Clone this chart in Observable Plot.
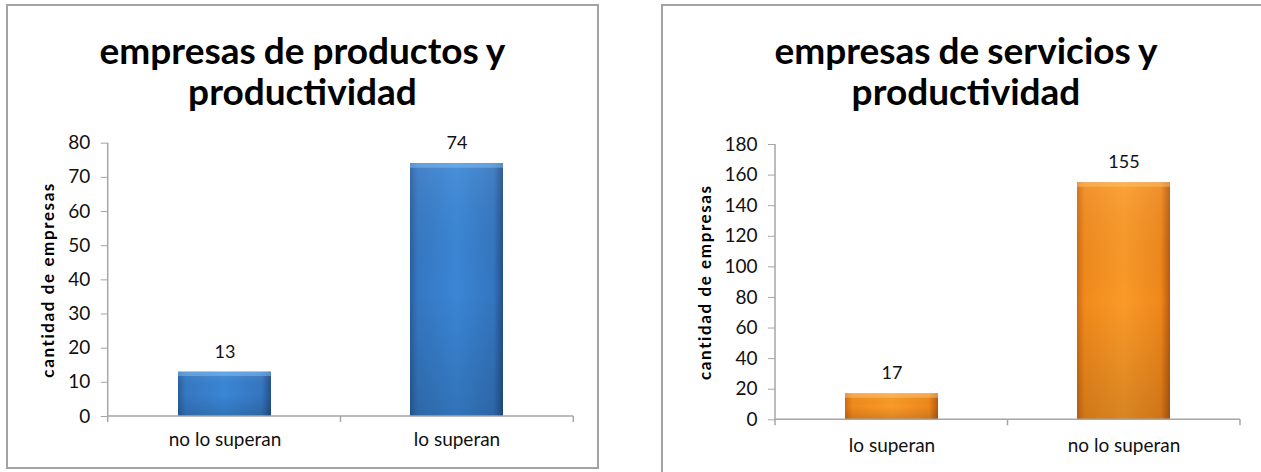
<!DOCTYPE html>
<html>
<head>
<meta charset="utf-8">
<script src="https://cdn.jsdelivr.net/npm/d3@7"></script>
<script src="https://cdn.jsdelivr.net/npm/@observablehq/plot@0.6"></script>
<style>
  html, body { margin: 0; padding: 0; background: #fff; width: 1261px; height: 472px; overflow: hidden; }
  .box { position: absolute; border: 2px solid #a3a3a3; box-sizing: border-box; background: #fff; }
  .title { position: absolute; left: 0; width: 100%; text-align: center; font-family: Lato, "Open Sans", sans-serif;
           font-weight: bold; font-size: 37px; line-height: 41px; color: #000; word-spacing: -1px; }
  .chart { position: absolute; }
  .chart svg { overflow: visible; font-family: Lato, "Open Sans", sans-serif; }
  .chart svg [aria-label="y-axis label"] text { font-weight: bold; fill: #000; font-size: 17px; letter-spacing: 1.6px; }
</style>
</head>
<body>
<div class="box" id="boxA" style="left:6px; top:4px; width:593px; height:465px;"></div>
<div class="box" id="boxB" style="left:661px; top:4px; width:620px; height:490px;"></div>
<div class="title" id="titleA" style="left:6px; width:593px; top:29px;"></div>
<div class="title" id="titleB" style="left:661px; width:610px; top:29px;"></div>
<div class="chart" id="chartA" style="left:0px; top:120px;"></div>
<div class="chart" id="chartB" style="left:640px; top:120px;"></div>
<script>
// ---- data ----
const titleProductos = ["empresas de productos y", "productividad"];
const catsProductos = ["no lo superan", "lo superan"];
const valsProductos = [13, 74];
const ticksProductos = [0, 10, 20, 30, 40, 50, 60, 70, 80];

const titleServicios = ["empresas de servicios y", "productividad"];
const catsServicios = ["lo superan", "no lo superan"];
const valsServicios = [17, 155];
const ticksServicios = [0, 20, 40, 60, 80, 100, 120, 140, 160, 180];

const yLabel = "cantidad de empresas";

// ---- helpers ----
function axisFrame(nCats, yMax, color) {
  return (index, scales, values, dims) => {
    const {width, marginLeft, marginRight} = dims;
    const y = scales.y;
    const left = marginLeft, right = width - marginRight;
    const y0 = y(0), yTop = y(yMax);
    const g = d3.create("svg:g").attr("stroke", color).attr("stroke-width", 1.5).attr("fill", "none");
    g.append("line").attr("x1", left).attr("x2", left).attr("y1", yTop).attr("y2", y0 + 6);
    g.append("line").attr("x1", left).attr("x2", right).attr("y1", y0).attr("y2", y0);
    for (let i = 1; i <= nCats; i++) {
      const x = left + i * (right - left) / nCats;
      g.append("line").attr("x1", x).attr("x2", x).attr("y1", y0).attr("y2", y0 + 6);
    }
    return g.node();
  };
}

function addDefs(svg, id, c) {
  const defs = d3.select(svg).insert("defs", ":first-child");
  const h = defs.append("linearGradient").attr("id", id + "H").attr("x1", 0).attr("x2", 1).attr("y1", 0).attr("y2", 0);
  [[0, c.edgeL], [0.08, c.side], [0.5, c.mid], [0.9, c.side2], [1, c.edgeR]].forEach(([o, col]) =>
    h.append("stop").attr("offset", o).attr("stop-color", col));
  const v = defs.append("linearGradient").attr("id", id + "V").attr("x1", 0).attr("x2", 0).attr("y1", 0).attr("y2", 1);
  v.append("stop").attr("offset", 0).attr("stop-color", "#fff").attr("stop-opacity", 0.08);
  v.append("stop").attr("offset", 0.5).attr("stop-color", "#000").attr("stop-opacity", 0.0);
  v.append("stop").attr("offset", 1).attr("stop-color", "#000").attr("stop-opacity", 0.14);
}

function makeChart({cats, vals, ticks, id, colors, width, height, marginLeft, marginRight, marginTop, marginBottom, labelOffset, labelDy, xPad}) {
  const data = cats.map((c, i) => ({cat: c, value: vals[i]}));
  const yMax = ticks[ticks.length - 1];
  const svg = Plot.plot({
    width, height, marginLeft, marginRight, marginTop, marginBottom,
    style: {fontFamily: "Lato, 'Open Sans', sans-serif", color: "#111", background: "transparent"},
    x: {domain: cats, paddingInner: 0.6, paddingOuter: 0.3},
    y: {domain: [0, yMax]},
    marks: [
      Plot.barY(data, {x: "cat", y: "value", fill: `url(#${id}H)`}),
      Plot.barY(data, {x: "cat", y: "value", fill: `url(#${id}V)`}),
      Plot.tickY(data, {x: "cat", y: "value", stroke: colors.bevel, strokeWidth: 4, dy: 2, strokeOpacity: 0.45}),
      axisFrame(cats.length, yMax, "#a6a6a6"),
      Plot.axisY({ticks, tickSize: 7, tickPadding: 11, stroke: "#a6a6a6", fontSize: 19,
        label: yLabel, labelAnchor: "center", labelArrow: "none", labelOffset}),
      Plot.axisX({tickSize: 0, tickPadding: xPad, fontSize: 19, label: null}),
      Plot.text(data, {x: "cat", y: "value", text: d => String(d.value), dy: labelDy, fontSize: 18, fill: "#111"})
    ]
  });
  addDefs(svg, id, colors);
  return svg;
}

function setTitle(el, lines) {
  el.innerHTML = "";
  lines.forEach((t, i) => { if (i) el.appendChild(document.createElement("br")); el.appendChild(document.createTextNode(t)); });
}

setTitle(document.getElementById("titleA"), titleProductos);
setTitle(document.getElementById("titleB"), titleServicios);

const blue = {edgeL: "#2a5f9f", side: "#3578c3", mid: "#3a86d6", side2: "#3476c0", edgeR: "#23508a", bevel: "#8cc6f7"};
const orange = {edgeL: "#cf6a10", side: "#f18a1c", mid: "#fa9a28", side2: "#ef881c", edgeR: "#b85a0c", bevel: "#ffc873"};

document.getElementById("chartA").appendChild(makeChart({
  cats: catsProductos, vals: valsProductos, ticks: ticksProductos, id: "gA", colors: blue,
  width: 600, height: 345, marginLeft: 107.7, marginRight: 26.7, marginTop: 22.7, marginBottom: 49,
  labelOffset: 66, labelDy: -20, xPad: 16
}));
document.getElementById("chartB").appendChild(makeChart({
  cats: catsServicios, vals: valsServicios, ticks: ticksServicios, id: "gB", colors: orange,
  width: 621, height: 345, marginLeft: 135, marginRight: 21, marginTop: 24, marginBottom: 45.7,
  labelOffset: 77, labelDy: -21, xPad: 19
}));
</script>
</body>
</html>
